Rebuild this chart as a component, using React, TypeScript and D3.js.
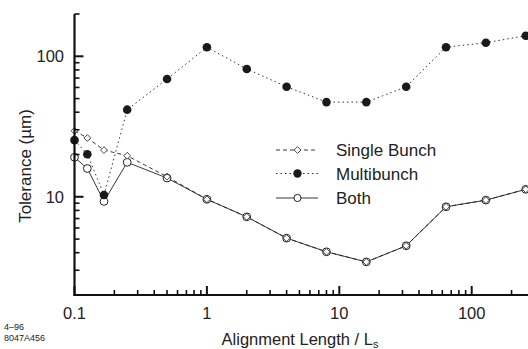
import React from "react";
import * as d3 from "d3";

const xs = [0.1, 0.125, 0.167, 0.25, 0.5, 1, 2, 4, 8, 16, 32, 64, 128, 256];
const singleBunch = [29.5, 26.2, 21.5, 19.6, 13.9, 9.6, 7.2, 5.08, 4.06, 3.44, 4.48, 8.49, 9.47, 11.3];
const multibunch = [25.3, 20.1, 10.3, 41.7, 68.9, 116, 81.3, 60.7, 47.2, 47.2, 60.7, 116, 125, 140];
const both = [19.1, 15.9, 9.27, 17.6, 13.6, 9.6, 7.2, 5.08, 4.06, 3.44, 4.48, 8.49, 9.47, 11.3];
const xTickLabels = ["0.1", "1", "10", "100"];
const yTickLabels = ["10", "100"];
const legendLabels = ["Single Bunch", "Multibunch", "Both"];

const W = 528, H = 349;
const FONT = "'Liberation Sans', Arial, Helvetica, sans-serif";

export default function App() {
  const x = d3.scaleLog().domain([0.1, 300]).range([74.5, 74.5 + Math.log10(3000) * 132.4]);
  const y = d3.scaleLog().domain([2, 200]).range([295, 14]);

  const line = d3.line<number>().x((_, i) => x(xs[i])).y((d) => y(d));

  const xMinor: number[] = [];
  for (let dec = 0.1; dec < 300; dec *= 10) {
    for (let k = 1; k <= 9; k++) {
      const v = dec * k;
      if (v <= 300 && x(v) <= W) xMinor.push(v);
    }
  }
  const yMinor: number[] = [];
  for (let dec = 1; dec <= 100; dec *= 10) {
    for (let k = 1; k <= 9; k++) {
      const v = dec * k;
      if (v >= 2 && v <= 200) yMinor.push(v);
    }
  }
  const isMajor = (v: number) => Math.abs(Math.log10(v) - Math.round(Math.log10(v))) < 1e-6;

  const diamond = (cx: number, cy: number, r: number) =>
    `M${cx},${cy - r}L${cx + r},${cy}L${cx},${cy + r}L${cx - r},${cy}Z`;

  const axisY = 295;
  const axisX = 74.5;

  const legendY = [150, 173.5, 198];

  return (
    <svg width={W} height={H} style={{ position: "absolute", left: 0, top: 0, background: "#fff" }}>
      {/* series lines */}
      <path d={line(multibunch) || ""} fill="none" stroke="#333" strokeWidth={1} strokeDasharray="1.5,3" />
      <path d={line(singleBunch) || ""} fill="none" stroke="#222" strokeWidth={0.9} strokeDasharray="4,3" />
      <path d={line(both) || ""} fill="none" stroke="#222" strokeWidth={0.9} />

      {/* markers */}
      {both.map((d, i) => (
        <circle key={"b" + i} cx={x(xs[i])} cy={y(d)} r={3.9} fill="#fff" stroke="#222" strokeWidth={1} />
      ))}
      {singleBunch.map((d, i) => (
        <path key={"s" + i} d={diamond(x(xs[i]), y(d), 3.4)} fill="#fff" fillOpacity={i >= 4 ? 0 : 1} stroke="#333" strokeWidth={0.9} />
      ))}
      {multibunch.map((d, i) => (
        <circle key={"m" + i} cx={x(xs[i])} cy={y(d)} r={4.3} fill="#1a1a1a" />
      ))}

      {/* axes */}
      <line x1={axisX} x2={axisX} y1={14} y2={axisY + 1} stroke="#111" strokeWidth={2.2} />
      <line x1={axisX - 1} x2={W} y1={axisY} y2={axisY} stroke="#111" strokeWidth={2.2} />
      {xMinor.map((v, i) => (
        <line key={"xt" + i} x1={x(v)} x2={x(v)} y1={axisY} y2={axisY - (isMajor(v) ? 9 : 5)} stroke="#111" strokeWidth={isMajor(v) ? 2 : 1.6} />
      ))}
      {yMinor.map((v, i) => (
        <line key={"yt" + i} x1={axisX} x2={axisX + (isMajor(v) ? 9 : 5)} y1={y(v)} y2={y(v)} stroke="#111" strokeWidth={isMajor(v) ? 2 : 1.6} />
      ))}

      {/* tick labels */}
      {xTickLabels.map((t) => (
        <text key={t} x={x(+t)} y={319} textAnchor="middle" fontFamily={FONT} fontSize={16.5} fill="#222">{t}</text>
      ))}
      {yTickLabels.map((t) => (
        <text key={t} x={64} y={y(+t) + 6} textAnchor="end" fontFamily={FONT} fontSize={16.5} fill="#222">{t}</text>
      ))}

      {/* axis titles */}
      <text transform="translate(31,166) rotate(-90)" textAnchor="middle" fontFamily={FONT} fontSize={17} fill="#222">Tolerance (µm)</text>
      <text x={300} y={345} textAnchor="middle" fontFamily={FONT} fontSize={16.5} fill="#222">
        Alignment Length / L<tspan fontSize={11} dy={3}>s</tspan>
      </text>
      <text x={4} y={330} fontFamily={FONT} fontSize={9} fill="#222">4–96</text>
      <text x={4} y={341} fontFamily={FONT} fontSize={9} fill="#222">8047A456</text>

      {/* legend */}
      <line x1={276} x2={318} y1={legendY[0]} y2={legendY[0]} stroke="#222" strokeWidth={0.9} strokeDasharray="4,3" />
      <path d={diamond(297.5, legendY[0], 3.4)} fill="#fff" stroke="#333" strokeWidth={0.9} />
      <line x1={276} x2={318} y1={legendY[1]} y2={legendY[1]} stroke="#333" strokeWidth={1} strokeDasharray="1.5,3" />
      <circle cx={297.5} cy={legendY[1]} r={4.2} fill="#1a1a1a" />
      <line x1={276} x2={318} y1={legendY[2]} y2={legendY[2]} stroke="#222" strokeWidth={0.9} />
      <circle cx={297.5} cy={legendY[2]} r={3.6} fill="#fff" stroke="#222" strokeWidth={1} />
      {legendLabels.map((t, i) => (
        <text key={t} x={336} y={legendY[i] + 6} fontFamily={FONT} fontSize={17} fill="#222">{t}</text>
      ))}
    </svg>
  );
}
